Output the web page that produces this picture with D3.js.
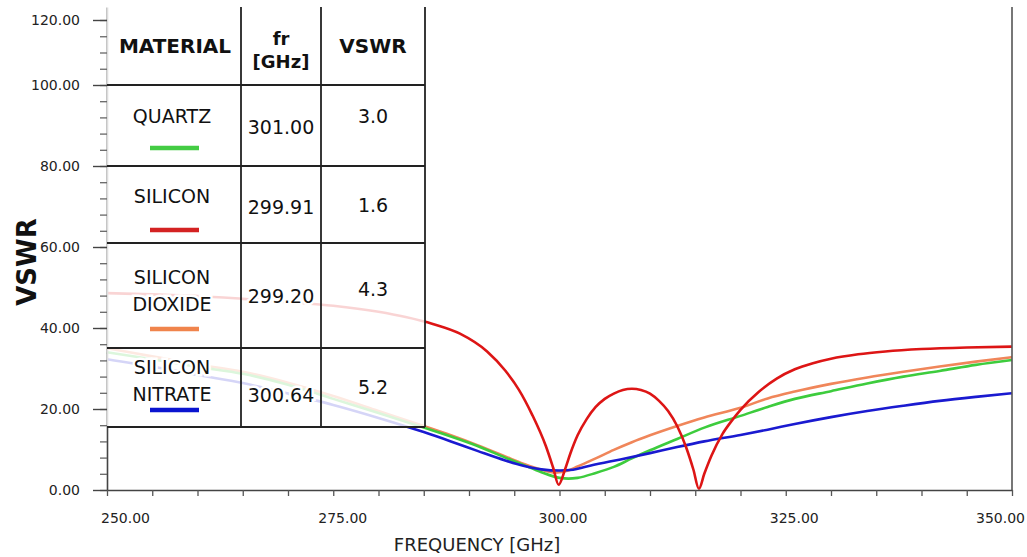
<!DOCTYPE html>
<html>
<head>
<meta charset="utf-8">
<script src="https://cdn.jsdelivr.net/npm/d3@7"></script>
<style>
    body { margin: 0; background: #fff; }
    svg { display: block; font-family: "DejaVu Sans", Verdana, sans-serif; }
</style>
</head>
<body>
<svg id="chart" width="1027" height="557"></svg>
<script>
// ---- data ----
const quartzFreq = [250, 255, 260, 265, 270, 275, 280, 285, 288, 291, 294, 296, 298, 300, 301, 302, 304, 306, 308, 310, 313, 316, 320, 323, 326, 330, 334, 338, 342, 346, 350];
const quartzVswr = [34.0, 32.3, 30.4, 28.7, 26.0, 22.5, 19.0, 15.4, 13.2, 10.8, 8.0, 6.2, 4.4, 3.0, 2.8, 3.0, 4.2, 5.7, 7.8, 9.8, 12.6, 15.4, 18.3, 20.5, 22.5, 24.4, 26.3, 28.0, 29.4, 30.9, 32.1];

const siliconFreq = [250, 255, 260, 265, 270, 275, 280, 283, 286, 289, 292, 294, 295.5, 297, 298.5, 299.3, 299.9, 300.6, 301.2, 302, 303, 304, 305, 306, 307, 308, 309, 310, 311, 312, 313, 314, 314.8, 315.4, 316, 316.8, 318, 319, 320, 322, 324, 326, 328, 330, 333, 336, 340, 345, 350];
const siliconVswr = [48.6, 48.3, 47.9, 47.2, 46.4, 45.5, 44.0, 42.7, 41.0, 38.6, 34.2, 29.5, 24.8, 18.5, 10.8, 5.5, 1.3, 5.0, 9.0, 13.5, 17.5, 20.5, 22.5, 23.8, 24.7, 25.0, 24.7, 23.8, 22.0, 19.5, 15.8, 10.5, 5.0, 0.3, 4.0, 8.5, 13.8, 17.0, 19.8, 24.2, 27.5, 29.8, 31.3, 32.4, 33.5, 34.2, 34.8, 35.2, 35.4];

const dioxideFreq = [250, 255, 260, 265, 270, 275, 280, 285, 288, 291, 294, 296, 298, 299.5, 301, 302, 304, 306, 308, 310, 313, 316, 320, 323, 326, 330, 334, 338, 342, 346, 350];
const dioxideVswr = [35.0, 33.0, 31.0, 29.2, 26.5, 23.2, 19.5, 15.8, 13.5, 11.0, 8.3, 6.5, 5.0, 4.3, 4.8, 5.8, 7.8, 9.9, 11.8, 13.5, 15.8, 17.9, 20.3, 22.6, 24.3, 26.2, 27.8, 29.2, 30.5, 31.7, 32.8];

const nitrateFreq = [250, 255, 260, 265, 270, 275, 280, 285, 288, 291, 294, 296, 298, 300, 301.5, 303, 306, 310, 313, 316, 320, 323, 326, 330, 334, 338, 342, 346, 350];
const nitrateVswr = [32.3, 30.5, 28.4, 26.4, 23.8, 21.0, 17.8, 14.3, 12.0, 9.6, 7.3, 6.0, 5.1, 4.8, 5.0, 5.8, 7.2, 9.1, 10.6, 12.0, 13.6, 14.9, 16.3, 18.0, 19.5, 20.8, 22.0, 23.0, 23.9];

// table contents
const materialNames = [["QUARTZ"], ["SILICON"], ["SILICON", "DIOXIDE"], ["SILICON", "NITRATE"]];
const resonance = ["301.00", "299.91", "299.20", "300.64"];
const minVswr = ["3.0", "1.6", "4.3", "5.2"];
const seriesColors = ["#3dcc3d", "#dd1515", "#f0865a", "#1a1ad0"];
const legendColors = ["#44cc44", "#d42222", "#f0844c", "#0a14d0"];

// axis ticks
const yMajor = [0, 20, 40, 60, 80, 100, 120];
const xMajor = [250, 275, 300, 325, 350];

// ---- scales ----
const svg = d3.select("#chart");

// y axis of the original is squeezed above 100, so use a two-piece linear scale
const y = d3.scaleLinear()
    .domain([0, 100, 124])
    .range([490, 85, 7]);

const x = d3.scaleLinear()
    .domain([250, 350])
    .range([107, 1012]);

// ---- curves ----
const series = [
    {freq: quartzFreq, vswr: quartzVswr},
    {freq: siliconFreq, vswr: siliconVswr},
    {freq: dioxideFreq, vswr: dioxideVswr},
    {freq: nitrateFreq, vswr: nitrateVswr}
];

const line = d3.line()
    .x(d => x(d[0]))
    .y(d => y(d[1]))
    .curve(d3.curveMonotoneX);

// draw orange first, then green, blue, red on top (like the picture)
[2, 0, 3, 1].forEach(i => {
    const pts = series[i].freq.map((f, k) => [f, series[i].vswr[k]]);
    svg.append("path")
        .attr("d", line(pts))
        .style("fill", "none")
        .style("stroke", seriesColors[i])
        .style("stroke-width", 2.6)
        .style("stroke-linejoin", "round");
});

// ---- axes ----
// minor y ticks
const yMinor = d3.range(0, 100, 4).concat(d3.range(100, 121, 5));
svg.append("g")
    .attr("transform", "translate(107,0)")
    .call(d3.axisLeft(y).tickValues(yMinor).tickSize(7).tickSizeOuter(0).tickFormat(""))
    .call(g => g.select(".domain").attr("stroke", "#444").attr("stroke-width", 1.6))
    .call(g => g.selectAll(".tick line").attr("stroke", "#666").attr("stroke-width", 1.3));

// major y ticks with labels
svg.append("g")
    .attr("transform", "translate(107,0)")
    .call(d3.axisLeft(y).tickValues(yMajor).tickSize(14).tickSizeOuter(0).tickPadding(13).tickFormat(d3.format(".2f")))
    .call(g => g.select(".domain").remove())
    .call(g => g.selectAll(".tick line").attr("stroke", "#444").attr("stroke-width", 1.4))
    .call(g => g.selectAll("text")
        .attr("font-size", 14)
        .attr("font-family", "DejaVu Sans, sans-serif")
        .attr("fill", "#222"));

// x axis, tick every 5 GHz, label every 25
const xLabelShift = [18, 9, 3, 8, -12];
svg.append("g")
    .attr("transform", "translate(0,490)")
    .call(d3.axisBottom(x).tickValues(d3.range(250, 351, 5)).tickSize(6).tickSizeOuter(0)
        .tickFormat(d => xMajor.includes(d) ? d3.format(".2f")(d) : ""))
    .call(g => g.select(".domain").attr("stroke", "#444").attr("stroke-width", 1.6))
    .call(g => g.selectAll(".tick line").attr("stroke", "#555").attr("stroke-width", 1.3))
    .call(g => g.selectAll("text")
        .attr("font-size", 14)
        .attr("font-family", "DejaVu Sans, sans-serif")
        .attr("fill", "#222")
        .attr("y", 23)
        .attr("dx", d => xMajor.includes(d) ? xLabelShift[xMajor.indexOf(d)] : 0));

// right frame line
svg.append("line")
    .attr("x1", x(350)).attr("x2", x(350))
    .attr("y1", y(124)).attr("y2", y(0))
    .attr("stroke", "#555")
    .attr("stroke-width", 1.6);

// axis titles
svg.append("text")
    .attr("transform", "translate(36,262) rotate(-90)")
    .attr("text-anchor", "middle")
    .attr("font-size", 26)
    .attr("font-weight", "bold")
    .attr("fill", "#111")
    .text("VSWR");

svg.append("text")
    .attr("x", 477)
    .attr("y", 551)
    .attr("text-anchor", "middle")
    .attr("font-size", 18)
    .attr("fill", "#222")
    .text("FREQUENCY [GHz]");

// ---- table drawn over the curves ----
const colX = [107, 241, 321, 425];
const rowY = [7, 85, 166, 243, 348, 427];
const table = svg.append("g");

// white, see-through background so the curves only show faintly
table.append("rect")
    .attr("x", colX[0]).attr("y", rowY[0])
    .attr("width", colX[3] - colX[0]).attr("height", rowY[5] - rowY[0])
    .attr("fill", "#fff")
    .attr("fill-opacity", 0.82);

colX.slice(1).forEach(cx => {
    table.append("line")
        .attr("x1", cx).attr("x2", cx)
        .attr("y1", rowY[0]).attr("y2", rowY[5])
        .attr("stroke", "#222").attr("stroke-width", 1.8);
});
rowY.slice(1).forEach(ry => {
    table.append("line")
        .attr("x1", colX[0]).attr("x2", colX[3])
        .attr("y1", ry).attr("y2", ry)
        .attr("stroke", "#222").attr("stroke-width", 1.8);
});

// helper for cell text with a white halo
function cellText(tx, ty, str, size, bold) {
    table.append("text")
        .attr("x", tx)
        .attr("y", ty)
        .attr("text-anchor", "middle")
        .attr("font-size", size)
        .attr("font-weight", bold ? "bold" : "normal")
        .attr("fill", "#111")
        .attr("stroke", "#fff")
        .attr("stroke-width", 5)
        .attr("paint-order", "stroke")
        .text(str);
}

// header
cellText(175, 53, "MATERIAL", 20, true);
cellText(281, 45, "fr", 18, true);
cellText(281, 68, "[GHz]", 18, true);
cellText(373, 53, "VSWR", 20, true);

// rows
const nameBase = [[123], [203], [284, 311], [374, 401]];
const freqBase = [134, 214, 303, 402];
const vswrBase = [123, 212, 296, 394];
const legendY = [148, 230, 329, 410];

materialNames.forEach((names, i) => {
    names.forEach((nm, k) => cellText(172, nameBase[i][k], nm, 19, false));
    cellText(281, freqBase[i], resonance[i], 19, false);
    cellText(373, vswrBase[i], minVswr[i], 19, false);
    table.append("line")
        .attr("x1", 150).attr("x2", 199)
        .attr("y1", legendY[i]).attr("y2", legendY[i])
        .attr("stroke", legendColors[i])
        .attr("stroke-width", 4.5);
});
</script>
</body>
</html>
